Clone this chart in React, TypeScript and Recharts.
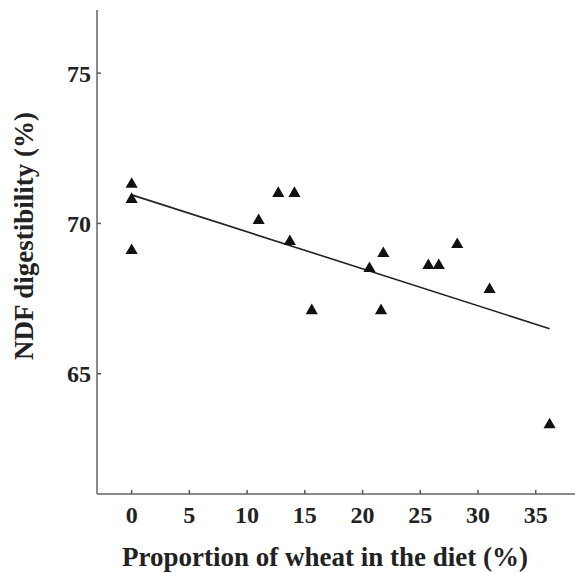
import {
  ScatterChart,
  Scatter,
  XAxis,
  YAxis,
  ZAxis,
} from "recharts";

// wheat share in diet (%) and NDF digestibility (%)
const wheat = [0, 0, 0, 11, 12.7, 14.1, 13.7, 15.6, 20.6, 21.8, 21.6, 25.7, 26.6, 28.2, 31, 36.2];
const ndf = [71.3, 70.8, 69.1, 70.1, 71.0, 71.0, 69.4, 67.1, 68.5, 69.0, 67.1, 68.6, 68.6, 69.3, 67.8, 63.3];

// fitted regression line end points
const fitX = [0, 36.2];
const fitY = [70.95, 66.5];

const xTicks = [0, 5, 10, 15, 20, 25, 30, 35];
const yTicks = [65, 70, 75];

const points = wheat.map((x, i) => ({ x, y: ndf[i] }));
const fit = fitX.map((x, i) => ({ x, y: fitY[i] }));

const font = "'Liberation Serif', 'Times New Roman', serif";
const tickStyle = { fontFamily: font, fontWeight: 700, fontSize: 24, fill: "#222" };
const labelStyle = { fontFamily: font, fontWeight: 700, fontSize: 27, fill: "#222" };
const axisStroke = "#8a8a8a";

export default function App() {
  return (
    <div style={{ position: "absolute", left: 0, top: 0, background: "#fff" }}>
      <ScatterChart
        width={575}
        height={573}
        margin={{ top: 10, right: 0, bottom: 0, left: 0 }}
        style={{ fontFamily: font }}
      >
        <XAxis
          type="number"
          dataKey="x"
          domain={[-3, 38.4]}
          ticks={xTicks}
          allowDataOverflow
          height={79}
          tickSize={-4}
          tickMargin={16}
          tick={tickStyle}
          stroke={axisStroke}
          strokeWidth={2}
          tickLine={{ stroke: "#555", strokeWidth: 1.5 }}
          label={{
            value: "Proportion of wheat in the diet (%)",
            position: "insideBottom",
            offset: 7,
            dx: -11,
            style: labelStyle,
          }}
        />
        <XAxis
          xAxisId="top"
          orientation="top"
          type="number"
          domain={[-3, 38.4]}
          height={0}
          tick={false}
          tickLine={false}
          stroke={axisStroke}
          strokeWidth={2}
        />
        <YAxis
          type="number"
          dataKey="y"
          domain={[61, 77.1]}
          ticks={yTicks}
          allowDataOverflow
          width={97}
          tickSize={-4}
          tickMargin={10}
          tick={tickStyle}
          stroke={axisStroke}
          strokeWidth={2}
          tickLine={{ stroke: "#555", strokeWidth: 1.5 }}
          label={{
            value: "NDF digestibility (%)",
            angle: -90,
            position: "insideLeft",
            offset: 23,
            dy: -16,
            style: { ...labelStyle, textAnchor: "middle" },
          }}
        />
        <ZAxis range={[150, 150]} />
        <Scatter
          data={fit}
          line={{ stroke: "#222", strokeWidth: 1.6 }}
          shape={() => null}
          isAnimationActive={false}
        />
        <Scatter data={points} shape="triangle" fill="#111" isAnimationActive={false} />
      </ScatterChart>
    </div>
  );
}
